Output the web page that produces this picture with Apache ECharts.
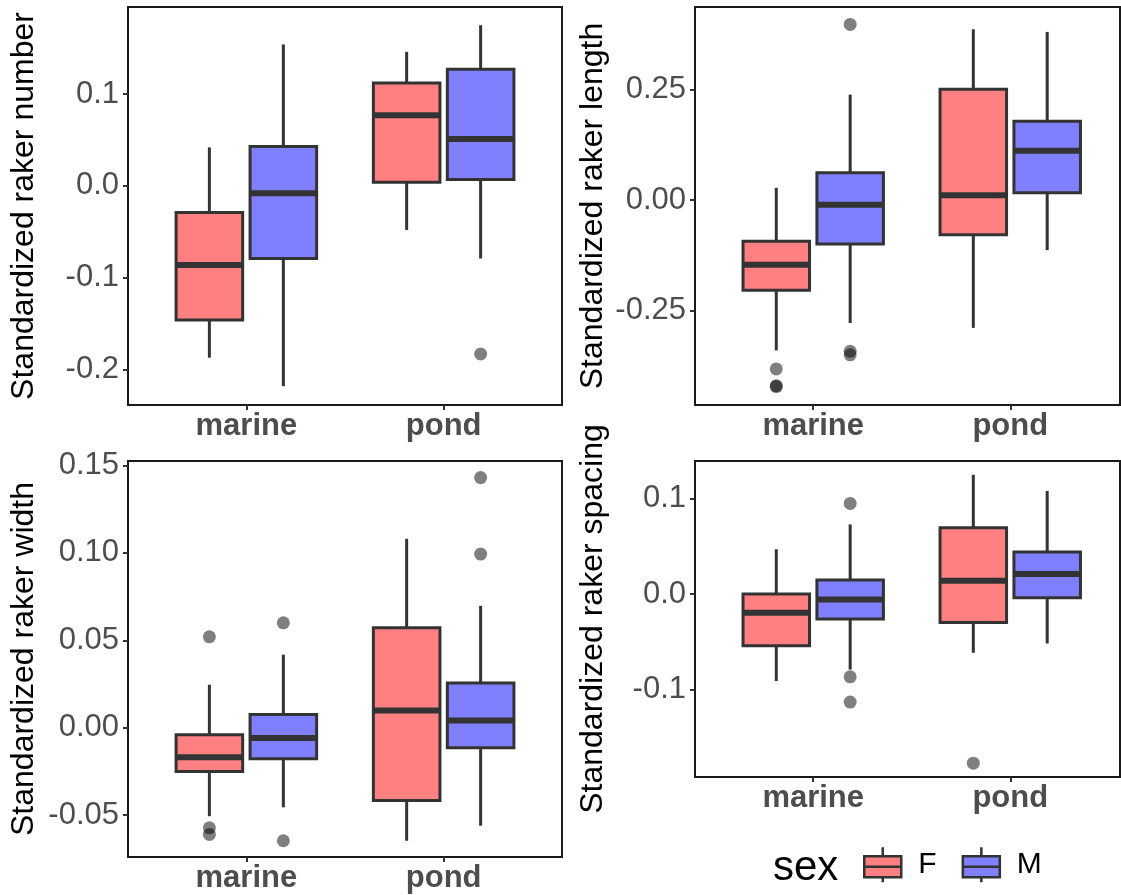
<!DOCTYPE html>
<html>
<head>
<meta charset="utf-8">
<script src="https://cdn.jsdelivr.net/npm/echarts@6/dist/echarts.min.js"></script>
<style>
  html, body { margin: 0; padding: 0; background: #fff; }
  #main { width: 1121px; height: 895px; }
</style>
</head>
<body>
<div id="main"></div>
<script>
const categories = ['marine', 'pond'];

// box stats per category: [min, q1, median, q3, max]
const numberF = [[-0.187, -0.146, -0.086, -0.029, 0.042], [-0.048, 0.004, 0.077, 0.112, 0.146]];
const numberM = [[-0.218, -0.079, -0.008, 0.043, 0.154], [-0.079, 0.007, 0.051, 0.127, 0.175]];
const numberOutF = [[], []];
const numberOutM = [[], [-0.183]];

const lengthF = [[-0.340, -0.204, -0.146, -0.093, 0.028], [-0.289, -0.078, 0.011, 0.251, 0.387]];
const lengthM = [[-0.278, -0.099, -0.010, 0.062, 0.239], [-0.113, 0.017, 0.112, 0.179, 0.381]];
const lengthOutF = [[-0.382, -0.420, -0.422], []];
const lengthOutM = [[0.398, -0.342, -0.350], []];

const widthF = [[-0.0506, -0.025, -0.0168, -0.004, 0.0246], [-0.0646, -0.0416, 0.0099, 0.0571, 0.108]];
const widthM = [[-0.0455, -0.0178, -0.0059, 0.0076, 0.0418], [-0.056, -0.0115, 0.0042, 0.0256, 0.0697]];
const widthOutF = [[0.052, -0.0572, -0.0610], []];
const widthOutM = [[0.060, -0.0646], [0.143, 0.0993]];

const spacingF = [[-0.091, -0.054, -0.0195, 0.0, 0.047], [-0.0614, -0.0297, 0.014, 0.0695, 0.125]];
const spacingM = [[-0.079, -0.026, -0.0056, 0.0147, 0.073], [-0.0517, -0.0038, 0.021, 0.044, 0.108]];
const spacingOutF = [[], [-0.177]];
const spacingOutM = [[0.095, -0.0866, -0.113], []];

const numberTicks = [-0.2, -0.1, 0, 0.1];
const lengthTicks = [-0.25, 0, 0.25];
const widthTicks = [-0.05, 0, 0.05, 0.1, 0.15];
const spacingTicks = [-0.1, 0, 0.1];

const FONT = '"Liberation Sans", Arial, sans-serif';
const LINE = '#333333';
const colorF = '#FF8080';
const colorM = '#8080FF';
const DODGE = 0.1875;   // half of dodge width 0.75
const HALF = 0.16875;   // half box width

const panels = [
  { title: 'Standardized raker number', F: numberF, M: numberM, outF: numberOutF, outM: numberOutM,
    ticks: numberTicks, dec: 1, yMin: -0.2385, yMax: 0.1948, xMax: 2.6,
    grid: { left: 128, top: 7, width: 434, height: 398 }, nameGap: 88 },
  { title: 'Standardized raker length', F: lengthF, M: lengthM, outF: lengthOutF, outM: lengthOutM,
    ticks: lengthTicks, dec: 2, yMin: -0.4636, yMax: 0.4374, xMax: 2.557,
    grid: { left: 695, top: 7, width: 425, height: 398 }, nameGap: 86 },
  { title: 'Standardized raker width', F: widthF, M: widthM, outF: widthOutF, outM: widthOutM,
    ticks: widthTicks, dec: 2, yMin: -0.0739, yMax: 0.1525, xMax: 2.6,
    grid: { left: 128, top: 461, width: 434, height: 396 }, nameGap: 88 },
  { title: 'Standardized raker spacing', F: spacingF, M: spacingM, outF: spacingOutF, outM: spacingOutM,
    ticks: spacingTicks, dec: 1, yMin: -0.1915, yMax: 0.1394, xMax: 2.557,
    grid: { left: 695, top: 461, width: 425, height: 316 }, nameGap: 86 }
];

function boxItem(offset) {
  return function (params, api) {
    const c = api.value(0) + offset;
    const left = api.coord([c - HALF, 0])[0];
    const right = api.coord([c + HALF, 0])[0];
    const mid = api.coord([c, 0])[0];
    const y = i => api.coord([c, api.value(i)])[1];
    return {
      type: 'group',
      children: [
        { type: 'line', shape: { x1: mid, y1: y(1), x2: mid, y2: y(2) }, style: { stroke: LINE, lineWidth: 3 } },
        { type: 'line', shape: { x1: mid, y1: y(4), x2: mid, y2: y(5) }, style: { stroke: LINE, lineWidth: 3 } },
        { type: 'rect', shape: { x: left, y: y(4), width: right - left, height: y(2) - y(4) },
          style: { fill: api.visual('color'), stroke: LINE, lineWidth: 3 } },
        { type: 'line', shape: { x1: left, y1: y(3), x2: right, y2: y(3) }, style: { stroke: LINE, lineWidth: 6 } }
      ]
    };
  };
}

function outlierItem(offset) {
  return function (params, api) {
    const p = api.coord([api.value(0) + offset, api.value(1)]);
    return { type: 'circle', shape: { cx: p[0], cy: p[1], r: 6.5 }, style: { fill: 'rgba(0,0,0,0.5)' } };
  };
}

const grids = [], xAxes = [], yAxes = [], series = [];
panels.forEach((p, i) => {
  grids.push(Object.assign({ show: true, borderColor: '#1a1a1a', borderWidth: 2, backgroundColor: 'transparent' }, p.grid));
  xAxes.push({
    gridIndex: i, type: 'value', min: 0.4, max: p.xMax,
    axisLine: { show: false, onZero: false },
    axisTick: { show: true, customValues: [1, 2], length: 5, lineStyle: { color: LINE, width: 2 } },
    axisLabel: { customValues: [1, 2], formatter: v => categories[Math.round(v) - 1],
      fontFamily: FONT, fontWeight: 'bold', fontSize: 31, color: '#4D4D4D', margin: 6 },
    splitLine: { show: false }
  });
  yAxes.push({
    gridIndex: i, type: 'value', min: p.yMin, max: p.yMax,
    name: p.title, nameLocation: 'middle', nameGap: p.nameGap,
    nameTextStyle: { fontFamily: FONT, fontSize: 32, color: '#000' },
    axisLine: { show: false, onZero: false },
    axisTick: { show: true, customValues: p.ticks, length: 5, lineStyle: { color: LINE, width: 2 } },
    axisLabel: { customValues: p.ticks, formatter: v => v.toFixed(p.dec),
      fontFamily: FONT, fontSize: 31, color: '#4D4D4D', margin: 9 },
    splitLine: { show: false }
  });
  [['F', p.F, -DODGE, colorF], ['M', p.M, DODGE, colorM]].forEach(([name, stats, off, color]) => {
    series.push({
      name: name, type: 'custom', coordinateSystem: 'cartesian2d',
      xAxisIndex: i, yAxisIndex: i,
      itemStyle: { color: color },
      encode: { x: 0, y: [1, 2, 3, 4, 5] },
      renderItem: boxItem(off),
      data: stats.map((s, k) => [k + 1].concat(s))
    });
  });
  [['F', p.outF, -DODGE], ['M', p.outM, DODGE]].forEach(([name, outs, off]) => {
    const pts = [];
    outs.forEach((list, k) => list.forEach(v => pts.push([k + 1, v])));
    series.push({
      name: name + ' outliers', type: 'custom', coordinateSystem: 'cartesian2d',
      xAxisIndex: i, yAxisIndex: i, z: 5,
      encode: { x: 0, y: 1 },
      renderItem: outlierItem(off),
      data: pts
    });
  });
});

const boxIcon = 'path://M0,9L37,9L37,30L0,30Z M0,19.5L37,19.5 M18.5,0L18.5,9 M18.5,30L18.5,35';

const chart = echarts.init(document.getElementById('main'), null, { renderer: 'canvas' });
chart.setOption({
  animation: false,
  backgroundColor: '#fff',
  grid: grids,
  xAxis: xAxes,
  yAxis: yAxes,
  legend: {
    left: 858, top: 841,
    itemWidth: 37, itemHeight: 35, itemGap: 25,
    selectedMode: false,
    textStyle: { fontFamily: FONT, fontSize: 30, color: '#000', padding: [0, 0, 0, 12] },
    data: [
      { name: 'F', icon: boxIcon, itemStyle: { color: colorF, borderColor: LINE, borderWidth: 2.5 } },
      { name: 'M', icon: boxIcon, itemStyle: { color: colorM, borderColor: LINE, borderWidth: 2.5 } }
    ]
  },
  graphic: [{
    type: 'text', left: 773, top: 847,
    style: { text: 'sex', fontFamily: FONT, fontSize: 42, fill: '#000' }
  }],
  series: series
});
</script>
</body>
</html>
